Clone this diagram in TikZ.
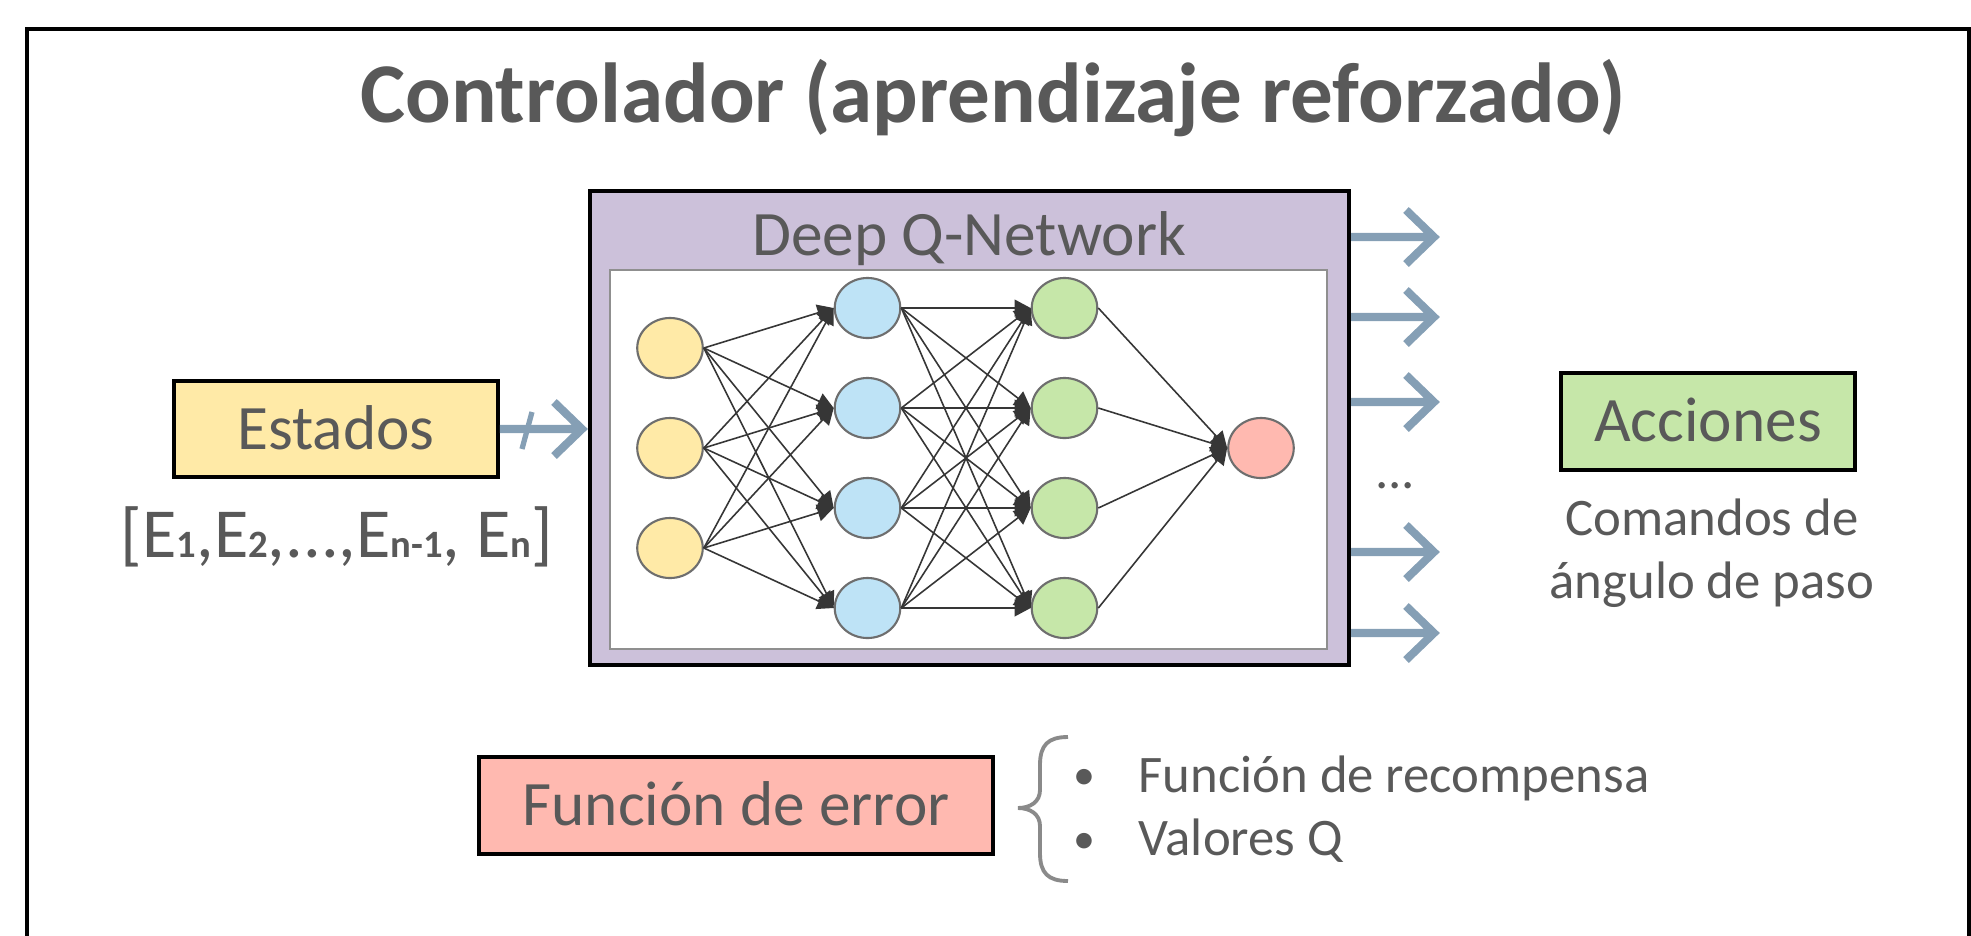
\documentclass[tikz,border=0pt]{standalone}
\usepackage{fontspec}
\setmainfont{Carlito}
\usetikzlibrary{arrows.meta,shapes.geometric}

\definecolor{txtgray}{HTML}{595959}
\definecolor{lavender}{HTML}{CCC1DA}
\definecolor{lightyellow}{HTML}{FFEAA7}
\definecolor{lightblue}{HTML}{BEE3F6}
\definecolor{lightgreen}{HTML}{C6E7A9}
\definecolor{salmon}{HTML}{FFB9B0}
\definecolor{arrowblue}{HTML}{859FB5}
\definecolor{nodegray}{HTML}{6E6E6E}
\definecolor{edgegray}{HTML}{363636}
\definecolor{bracegray}{HTML}{8A8A8A}
\definecolor{innergray}{HTML}{8F8F8F}

% small index set on the baseline, as in E1, E2, ...
\newcommand\lowidx[1]{{\fontsize{11}{12}\selectfont\bfseries #1}}

\begin{document}
\begin{tikzpicture}[x=0.01cm,y=-0.01cm,
  labelbox/.style={draw=black, line width=0.95pt, inner sep=0pt, text=txtgray,
    font=\fontsize{18}{21}\selectfont, text height=11.6pt, text depth=0pt},
  neuron/.style={ellipse, draw=nodegray, line width=0.6pt, inner sep=0pt,
    minimum width=0.655cm, minimum height=0.6cm},
  nnedge/.style={draw=edgegray, line width=0.45pt, -{Triangle[length=4.6pt,width=4.8pt]}},
  flowarrow/.style={draw=arrowblue, line width=2.3pt, line join=miter},
  graytext/.style={text=txtgray, inner sep=0pt},
]
\useasboundingbox (0,0) rectangle (1971,935);

% outer frame (open at the bottom of the page)
\draw[line width=1.2pt] (27,960) -- (27,29) -- (1969,29) -- (1969,960);

% title
\node[graytext, anchor=base, font=\fontsize{24.2}{28}\selectfont\bfseries] (title)
  at (993,122) {Controlador (aprendizaje reforzado)};

% network block
\node[draw=black, line width=1.05pt, fill=lavender, minimum width=7.59cm,
  minimum height=4.74cm, inner sep=0pt] (dqn) at (969.5,428) {};
\node[graytext, anchor=base, font=\fontsize{18}{21}\selectfont] (dqnlabel)
  at (969,255) {Deep Q-Network};
\node[draw=innergray, line width=0.6pt, fill=white, minimum width=7.17cm,
  minimum height=3.79cm, inner sep=0pt] (inner) at (968.5,459.5) {};

% neurons
\foreach \k/\y in {1/348,2/448,3/548}
  \node[neuron, fill=lightyellow] (i\k) at (670,\y) {};
\foreach \k/\y in {1/308,2/408,3/508,4/608}{
  \node[neuron, fill=lightblue] (h\k) at (867.5,\y) {};
  \node[neuron, fill=lightgreen] (g\k) at (1064.5,\y) {};
}
\node[neuron, fill=salmon] (out) at (1261,448) {};

% connections
\foreach \a in {1,2,3}
  \foreach \b in {1,2,3,4}
    \draw[nnedge] (i\a.east) -- (h\b.west);
\foreach \a in {1,2,3,4}
  \foreach \b in {1,2,3,4}
    \draw[nnedge] (h\a.east) -- (g\b.west);
\foreach \a in {1,2,3,4}
  \draw[nnedge] (g\a.east) -- (out.west);

% input
\node[labelbox, fill=lightyellow, minimum width=3.24cm, minimum height=0.96cm]
  (estados) at (336,429) {Estados};
\node[graytext, anchor=base, font=\fontsize{20}{24}\selectfont] (elist)
  at (337,557) {[E\lowidx{1},E\lowidx{2},...,E\lowidx{n-1}, E\lowidx{n}]};
\coordinate (inarr) at (582,429);
\draw[flowarrow] (estados.east) -- (inarr) ++(-28,-27) -- (inarr) -- ++(-28,27);
\draw[arrowblue, line width=1.5pt] (532,412) -- (522,449);

% outputs
\foreach \k/\y in {1/237,2/317,3/402,4/552,5/633}{
  \coordinate (o\k) at (1434,\y);
  \draw[flowarrow] (dqn.east |- o\k) -- (o\k) ++(-28,-27) -- (o\k) -- ++(-28,27);
}
\node[graytext, anchor=base, font=\fontsize{15}{18}\selectfont] (dots)
  at (1395,488) {...};

\node[labelbox, fill=lightgreen, minimum width=2.94cm, minimum height=0.97cm]
  (acciones) at (1708,421.5) {Acciones};
\node[graytext, anchor=base, font=\fontsize{15}{18}\selectfont] (cmd1)
  at (1712,535) {Comandos de};
\node[graytext, anchor=base, font=\fontsize{15}{18}\selectfont] (cmd2)
  at (1712,598) {ángulo de paso};

% error function
\node[labelbox, fill=salmon, minimum width=5.14cm, minimum height=0.97cm]
  (error) at (736,805.5) {Función de error};
\draw[bracegray, line width=1.1pt]
  (1068,737) .. controls (1048,737) and (1040,745) .. (1040,765)
  -- (1040,790) .. controls (1040,802) and (1030,808) .. (1018,808)
  .. controls (1030,808) and (1040,814) .. (1040,826)
  -- (1040,853) .. controls (1040,873) and (1048,881) .. (1068,881);
\node[graytext, anchor=base, font=\fontsize{12.5}{15}\selectfont] (bul1) at (1084,789) {•};
\node[graytext, anchor=base, font=\fontsize{12.5}{15}\selectfont] (bul2) at (1084,853) {•};
\node[graytext, anchor=base west, font=\fontsize{15}{18}\selectfont] (item1)
  at (1138,792) {Función de recompensa};
\node[graytext, anchor=base west, font=\fontsize{15}{18}\selectfont] (item2)
  at (1138,855) {Valores Q};
\end{tikzpicture}
\end{document}
